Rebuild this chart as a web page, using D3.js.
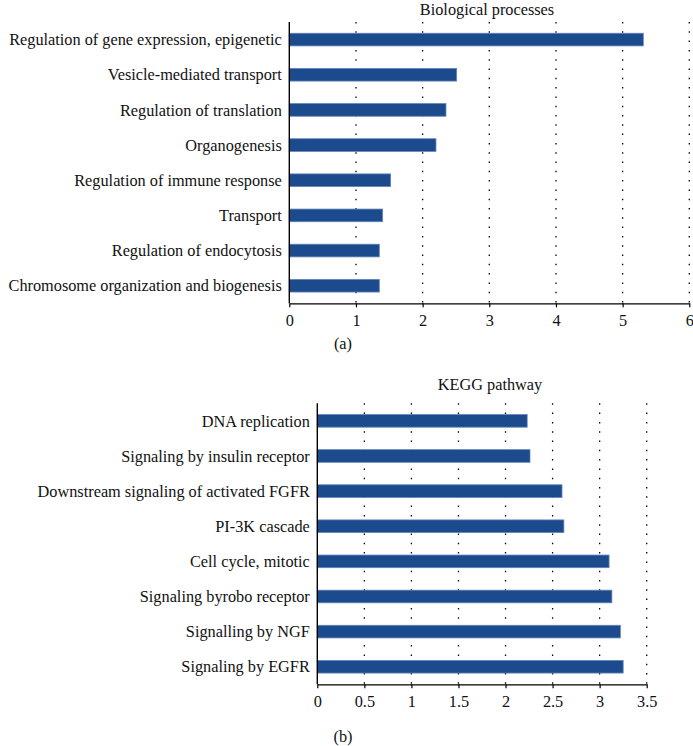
<!DOCTYPE html>
<html><head><meta charset="utf-8">
<script src="https://cdn.jsdelivr.net/npm/d3@7"></script>
<style>
body{margin:0;background:#fff;}
</style></head>
<body><svg id="c" width="693" height="746" font-family="Liberation Serif, DejaVu Serif, Times New Roman, serif"></svg>
<script>
const bioCategories = ["Regulation of gene expression, epigenetic","Vesicle-mediated transport","Regulation of translation","Organogenesis","Regulation of immune response","Transport","Regulation of endocytosis","Chromosome organization and biogenesis"];
const bioValues = [5.31, 2.51, 2.35, 2.20, 1.52, 1.40, 1.35, 1.35];
const bioTicks = [0,1,2,3,4,5,6];

const keggCategories = ["DNA replication","Signaling by insulin receptor","Downstream signaling of activated FGFR","PI-3K cascade","Cell cycle, mitotic","Signaling byrobo receptor","Signalling by NGF","Signaling by EGFR"];
const keggValues = [2.23, 2.26, 2.60, 2.62, 3.10, 3.13, 3.22, 3.25];
const keggTicks = [0,0.5,1,1.5,2,2.5,3,3.5];

const svg = d3.select("#c");
const FONT = "Liberation Serif, DejaVu Serif, Times New Roman, serif";
const FS = 16.3;

function panel(cfg){
  const g = svg.append("g");
  const x = d3.scaleLinear().domain(cfg.domain).range([cfg.x0, cfg.x1]);
  const y = d3.scaleBand().domain(cfg.cats).range([cfg.y0, cfg.y1]).paddingInner(0.64).paddingOuter(0.32);
  g.selectAll(".grid").data(cfg.ticks.filter(t=>t>0)).join("line")
    .attr("x1", d=>x(d)).attr("x2", d=>x(d))
    .attr("y1", cfg.y0).attr("y2", cfg.y1)
    .attr("stroke","#000").attr("stroke-width",1.3)
    .attr("stroke-dasharray","1.5,7.8");
  g.selectAll(".bar").data(cfg.vals).join("rect")
    .attr("x", x(0)).attr("y", (d,i)=>y(cfg.cats[i]))
    .attr("width", d=>x(d)-x(0)).attr("height", y.bandwidth())
    .attr("fill","#1b4a8d").attr("stroke","#6384b8").attr("stroke-width",0.8);
  const ax = g.append("g").attr("transform",`translate(0,${cfg.y1})`)
    .call(d3.axisBottom(x).tickValues(cfg.ticks).tickFormat(d=>String(d)).tickSize(4).tickSizeOuter(0).tickPadding(7));
  ax.attr("font-family", FONT).attr("font-size", FS);
  ax.select(".domain").attr("stroke","#000").attr("stroke-width",1.2);
  ax.selectAll(".tick line").attr("stroke","#000").attr("stroke-width",1.2);
  ax.selectAll(".tick text").attr("fill","#111");
  g.append("line").attr("x1",x(0)).attr("x2",x(0)).attr("y1",cfg.y0).attr("y2",cfg.y1)
    .attr("stroke","#000").attr("stroke-width",1.4);
  g.selectAll(".lab").data(cfg.cats).join("text")
    .attr("x", x(0)-7.5).attr("y", d=>y(d)+y.bandwidth()/2)
    .attr("dy","0.35em").attr("text-anchor","end")
    .attr("font-family", FONT).attr("font-size", FS).attr("fill","#111").text(d=>d);
  g.append("text").attr("x",cfg.tx).attr("y",cfg.ty).attr("text-anchor","middle")
    .attr("font-family", FONT).attr("font-size", FS).attr("fill","#111").text(cfg.title);
  g.append("text").attr("x",343).attr("y",cfg.py).attr("dy","0.35em").attr("text-anchor","middle")
    .attr("font-family", FONT).attr("font-size", FS).attr("fill","#111").text(cfg.panel);
}

panel({cats:bioCategories, vals:bioValues, ticks:bioTicks, domain:[0,6], x0:289.3, x1:689.3, y0:22, y1:303.3,
  title:"Biological processes", tx:487, ty:14.5, panel:"(a)", py:343});
panel({cats:keggCategories, vals:keggValues, ticks:keggTicks, domain:[0,3.5], x0:317.3, x1:646.7, y0:403.3, y1:684.3,
  title:"KEGG pathway", tx:490, ty:390, panel:"(b)", py:736});
</script></body></html>
